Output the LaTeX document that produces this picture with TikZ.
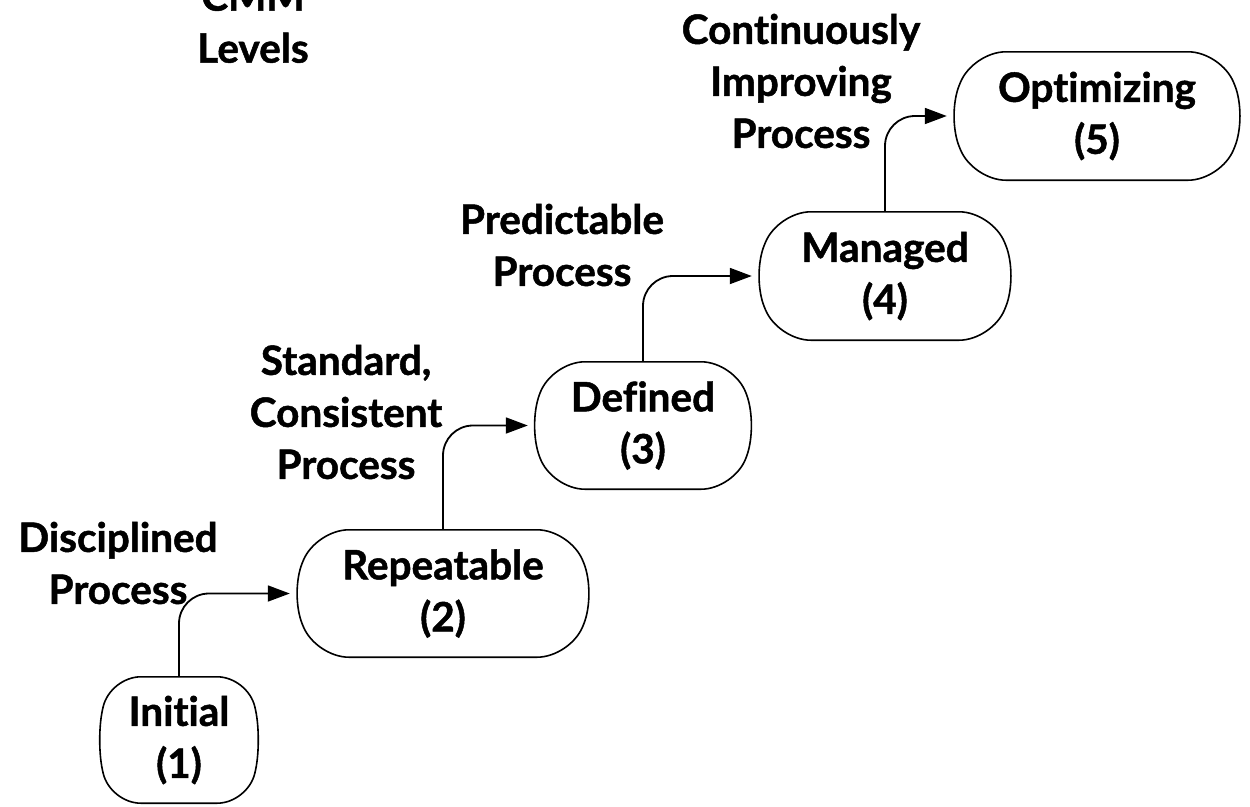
\documentclass[tikz,border=0pt]{standalone}
\usepackage{fontspec}
\setmainfont{Lato}[BoldFont={Lato Bold}, BoldFeatures={FakeBold=1.2}, Ligatures=NoCommon]
\usetikzlibrary{arrows.meta,backgrounds,calc}
\tikzset{
  lvl/.style={inner sep=0pt, align=center, font=\fontsize{40.5}{52}\selectfont\bfseries},
  lbl/.style={inner sep=0pt, align=center, font=\fontsize{40.5}{52}\selectfont\bfseries},
  arr/.style={line width=1.8pt, rounded corners=30pt, -{Triangle[length=22pt,width=16pt]}},
  outline/.style={draw=black, line width=1.6pt, fill=white},
  shade/.style={fill=black, opacity=0.15}
}
\begin{document}
\begin{tikzpicture}[x=1pt,y=-1pt]
\useasboundingbox (0,0) rectangle (1250,806);
% boxes
\node[lvl, minimum width=166pt, minimum height=126pt] (l1) at (179,740) {Initial\\(1)};
\node[lvl, minimum width=306pt, minimum height=127pt] (l2) at (443,593.5) {Repeatable\\(2)};
\node[lvl, minimum width=230pt, minimum height=127pt] (l3) at (643,425.5) {Defined\\(3)};
\node[lvl, minimum width=266pt, minimum height=128pt] (l4) at (885,276) {Managed\\(4)};
\node[lvl, minimum width=300pt, minimum height=128pt] (l5) at (1097,116) {Optimizing\\(5)};
\begin{scope}[on background layer]
\foreach \n/\b/\r in {l1/14/31,l2/26/33,l3/24/33,l4/26/33,l5/26/33} {
  \foreach \s in {1,2,3,4,5} {
    \fill[shade, rounded corners=\r pt, shift={(\s*1.0,\s*1.25)}]
      (\n.north) -- ($(\n.north east)+(-\b,0)$) -- (\n.east) -- ($(\n.south east)+(-\b,0)$)
      -- ($(\n.south west)+(\b,0)$) -- (\n.west) -- ($(\n.north west)+(\b,0)$) -- cycle;
  }
  \draw[outline, rounded corners=\r pt]
    (\n.north) -- ($(\n.north east)+(-\b,0)$) -- (\n.east) -- ($(\n.south east)+(-\b,0)$)
    -- ($(\n.south west)+(\b,0)$) -- (\n.west) -- ($(\n.north west)+(\b,0)$) -- cycle;
}
\end{scope}
% labels
\node[lbl] (t0) at (253,22) {CMM\\Levels};
\node[lbl] (t1) at (118,563) {Disciplined\\Process};
\node[lbl] (t2) at (346,412) {Standard,\\Consistent\\Process};
\node[lbl] (t3) at (562,245) {Predictable\\Process};
\node[lbl] (t4) at (801,81) {Continuously\\Improving\\Process};
% connectors
\draw[arr] (l1.north) |- (l2.west);
\draw[arr] (l2.north) |- (l3.west);
\draw[arr] (l3.north) |- (l4.west);
\draw[arr] (l4.north) |- (l5.west);
\end{tikzpicture}
\end{document}
